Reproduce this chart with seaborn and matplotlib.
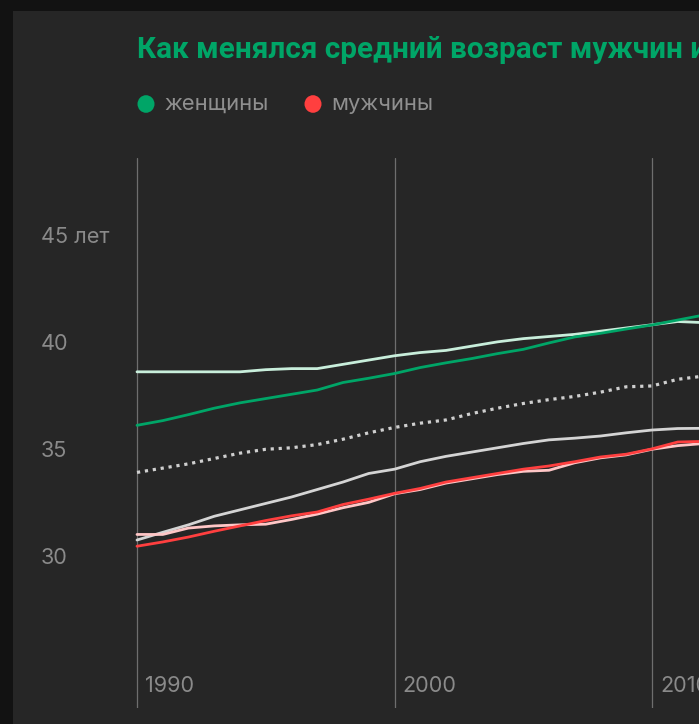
import matplotlib
matplotlib.use("Agg")
import matplotlib.pyplot as plt
import matplotlib.transforms as mtransforms
from matplotlib.patches import Rectangle, Circle
import seaborn as sns

# ---------------- data ----------------
years = list(range(1990, 2013))
women_a = [38.7, 38.7, 38.7, 38.7, 38.7, 38.8, 38.85, 38.85, 39.05, 39.25, 39.45, 39.6,
           39.7, 39.9, 40.1, 40.25, 40.35, 40.45, 40.6, 40.75, 40.9, 41.05, 41.0]
women_b = [36.2, 36.42, 36.7, 37.0, 37.25, 37.45, 37.65, 37.85, 38.2, 38.4, 38.62, 38.9,
           39.12, 39.32, 39.55, 39.75, 40.05, 40.33, 40.5, 40.7, 40.89, 41.12, 41.35]
total = [34.0, 34.2, 34.4, 34.65, 34.9, 35.08, 35.15, 35.3, 35.55, 35.85, 36.1, 36.3,
         36.45, 36.75, 37.0, 37.22, 37.4, 37.55, 37.75, 38.0, 38.04, 38.35, 38.5]
grey_line = [30.84, 31.2, 31.55, 31.95, 32.25, 32.55, 32.85, 33.2, 33.55, 33.95, 34.15, 34.5,
             34.75, 34.95, 35.15, 35.35, 35.52, 35.6, 35.7, 35.85, 35.98, 36.05, 36.06]
men_a = [31.1, 31.1, 31.4, 31.5, 31.55, 31.58, 31.8, 32.05, 32.35, 32.6, 33.0, 33.2,
         33.5, 33.7, 33.9, 34.05, 34.1, 34.45, 34.68, 34.82, 35.08, 35.25, 35.35]
men_b = [30.55, 30.75, 30.98, 31.25, 31.5, 31.75, 31.97, 32.15, 32.5, 32.75, 33.02, 33.25,
         33.55, 33.75, 33.95, 34.15, 34.3, 34.5, 34.72, 34.85, 35.1, 35.42, 35.45]

y_ticks = [30, 35, 40, 45]
y_tick_labels = ["30", "35", "40", "45 лет"]
x_ticks = [1990, 2000, 2010]
x_tick_labels = ["1990", "2000", "2010"]
title = "Как менялся средний возраст мужчин и"
legend_labels = ["женщины", "мужчины"]

# ---------------- style ----------------
sns.set_theme(style="dark")
plt.rcParams["font.family"] = ["Inter", "DejaVu Sans"]

W, H = 699, 724
fig = plt.figure(figsize=(W / 100, H / 100), dpi=100, facecolor="#121212")
fig.patches.append(Rectangle((13 / W, 0), 1 - 13 / W, (H - 11) / H,
                             transform=fig.transFigure, facecolor="#262626",
                             edgecolor="none", zorder=-10))

# axes: pixel box x 13..699, y 158..708 (from top)
ax = fig.add_axes([13 / W, (H - 708) / H, (W - 13) / W, (708 - 158) / H], zorder=2)
ax.set_facecolor("none")
px_per_year = 25.75
px_per_unit = 21.4
ax.set_xlim(1990 - (137 - 13) / px_per_year, 1990 + (699 - 137) / px_per_year)
ax.set_ylim(45 - (708 - 237) / px_per_unit, 45 + (237 - 158) / px_per_unit)
for s in ax.spines.values():
    s.set_visible(False)
ax.set_xticks([])
ax.set_yticks([])
ax.grid(False)

# vertical grid lines
for xv in x_ticks:
    ax.axvline(xv, color="#6e6e6e", lw=0.9, zorder=1)

lw = 2.0
sns.lineplot(x=years, y=women_a, ax=ax, color="#c8eedb", lw=lw, zorder=3)
sns.lineplot(x=years, y=women_b, ax=ax, color="#00a567", lw=lw, zorder=4)
sns.lineplot(x=years, y=total, ax=ax, color="#cfcfcf", lw=2.3, zorder=3)
ax.get_lines()[-1].set_linestyle((0, (1.0, 1.5)))
ax.get_lines()[-1].set_dash_capstyle("butt")
sns.lineplot(x=years, y=grey_line, ax=ax, color="#d4d4d4", lw=lw, zorder=3)
sns.lineplot(x=years, y=men_a, ax=ax, color="#ffc6c6", lw=lw, zorder=3)
sns.lineplot(x=years, y=men_b, ax=ax, color="#ff3f3f", lw=lw, zorder=4)

# y labels
trans_y = mtransforms.blended_transform_factory(fig.transFigure, ax.transData)
for v, lab in zip(y_ticks, y_tick_labels):
    ax.text(41 / W, v, lab, transform=trans_y, ha="left", va="center",
            fontsize=15.6, color="#8a8a8a")

# x labels
trans_x = mtransforms.blended_transform_factory(ax.transData, fig.transFigure)
for v, lab in zip(x_ticks, x_tick_labels):
    ax.text(v + 8 / px_per_year, (H - 686) / H, lab, transform=trans_x,
            ha="left", va="center", fontsize=15.6, color="#8a8a8a")

# title
fig.text(137 / W, (H - 50) / H, title, ha="left", va="center",
         fontsize=21.4, fontweight="bold", color="#00a567",
         family=["Roboto", "DejaVu Sans"])

# legend
fig.patches.append(Circle((146 / W, (H - 104) / H), 8.5 / W, transform=fig.transFigure,
                          facecolor="#00a567", edgecolor="none", zorder=5))
fig.text(164 / W, (H - 104) / H, legend_labels[0], ha="left", va="center",
         fontsize=15.8, color="#8f8f8f")
fig.patches.append(Circle((313 / W, (H - 104) / H), 8.5 / W, transform=fig.transFigure,
                          facecolor="#ff3f3f", edgecolor="none", zorder=5))
fig.text(331 / W, (H - 104) / H, legend_labels[1], ha="left", va="center",
         fontsize=15.8, color="#8f8f8f")

fig.savefig("out.png", dpi=100, facecolor=fig.get_facecolor())
